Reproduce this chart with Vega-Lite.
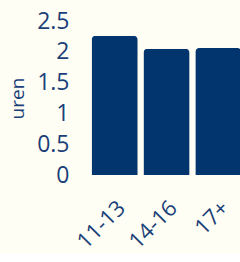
{
  "$schema": "https://vega.github.io/schema/vega-lite/v6.json",
  "width": 153,
  "height": 154,
  "padding": {"left": 8, "top": 10, "right": 0, "bottom": 0},
  "background": "#fffef4",
  "data": {"values": [
    {"leeftijd": "11-13", "uren": 2.26},
    {"leeftijd": "14-16", "uren": 2.05},
    {"leeftijd": "17+", "uren": 2.06}
  ]},
  "mark": {"type": "bar", "color": "#02346d", "cornerRadiusTopLeft": 4, "cornerRadiusTopRight": 4},
  "encoding": {
    "x": {
      "field": "leeftijd", "type": "nominal", "sort": null,
      "scale": {"paddingInner": 0.11, "paddingOuter": 0.03},
      "axis": {"title": null, "labelAngle": -45, "labelFontSize": 22, "labelColor": "#1b3f78", "labelFont": "Open Sans", "ticks": false, "domain": false, "labelPadding": 22}
    },
    "y": {
      "field": "uren", "type": "quantitative",
      "scale": {"domain": [0, 2.5]},
      "axis": {"values": [0, 0.5, 1, 1.5, 2, 2.5], "format": "~g", "grid": false, "domain": false, "ticks": false, "labelPadding": 21, "labelFontSize": 23, "labelColor": "#1b3f78", "labelFont": "Open Sans", "title": "uren", "titleFontSize": 19, "titleFontWeight": "normal", "titleColor": "#1b3f78", "titleFont": "Open Sans", "titlePadding": 9}
    }
  },
  "config": {"view": {"stroke": null}}
}
